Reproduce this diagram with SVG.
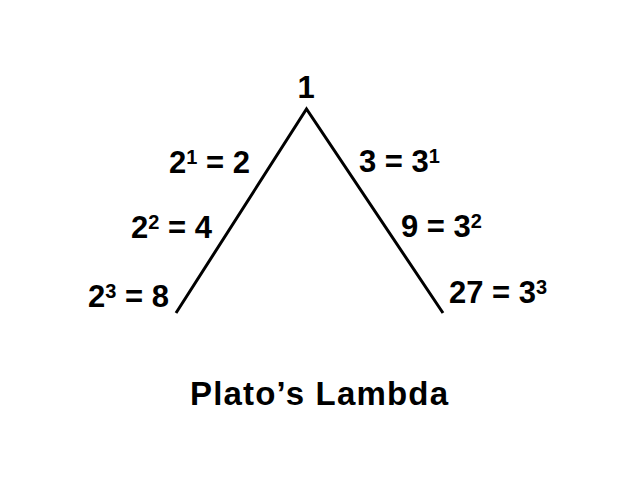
<svg xmlns="http://www.w3.org/2000/svg" width="640" height="480" viewBox="0 0 640 480">
<style>
text{font-family:"Liberation Sans",Arial,sans-serif;font-weight:bold;fill:#000;font-size:31px}
.sup{font-size:20px}
.title{font-size:33px}
.edge{stroke:#000;stroke-width:3;fill:none;stroke-linecap:butt;stroke-linejoin:miter}
</style>
<rect width="640" height="480" fill="#fff"/>
<g id="connectors">
<path class="edge" d="M176,313 L306.5,109 L443,313"/>
</g>
<g id="apex"><text x="306" y="98" text-anchor="middle">1</text></g>
<g id="l1"><text x="169" y="173">2<tspan class="sup" dy="-9">1</tspan><tspan dy="9"> = 2</tspan></text></g>
<g id="l2"><text x="131" y="238">2<tspan class="sup" dy="-9">2</tspan><tspan dy="9"> = 4</tspan></text></g>
<g id="l3"><text x="88" y="307">2<tspan class="sup" dy="-9">3</tspan><tspan dy="9"> = 8</tspan></text></g>
<g id="r1"><text x="359" y="172">3 = 3<tspan class="sup" dy="-9">1</tspan></text></g>
<g id="r2"><text x="401" y="237">9 = 3<tspan class="sup" dy="-9">2</tspan></text></g>
<g id="r3"><text x="449" y="303">27 = 3<tspan class="sup" dy="-9">3</tspan></text></g>
<g id="title"><text class="title" x="190" y="405" textLength="258" lengthAdjust="spacing">Plato’s Lambda</text></g>
</svg>
